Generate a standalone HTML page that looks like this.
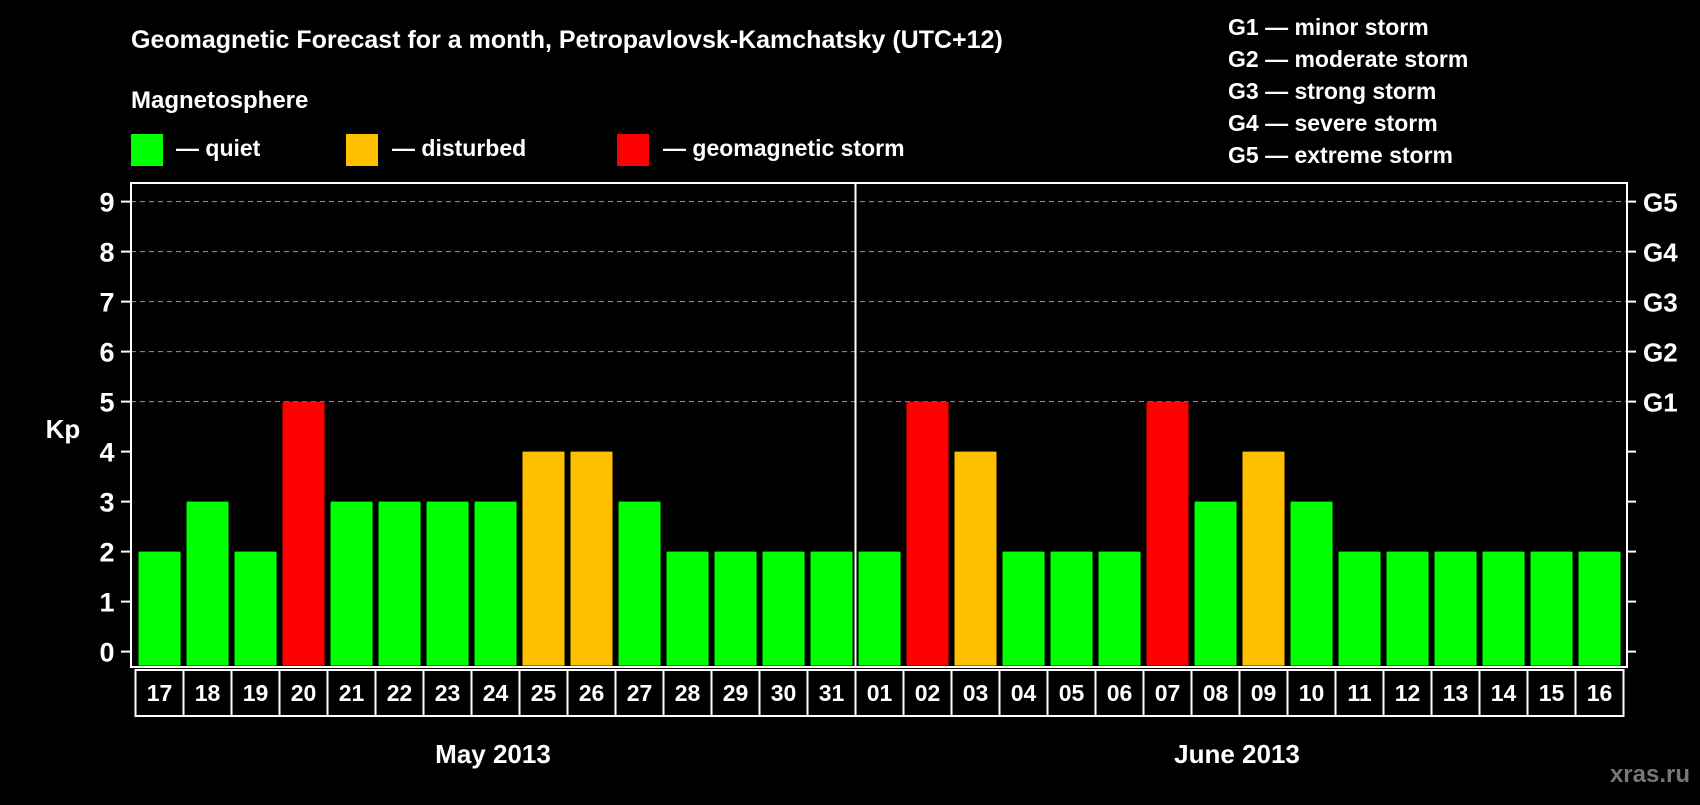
<!DOCTYPE html>
<html><head><meta charset="utf-8"><style>
body{margin:0;background:#000;width:1700px;height:800px;overflow:hidden;font-family:"Liberation Sans",sans-serif;}
svg text{font-family:"Liberation Sans",sans-serif;font-weight:bold;fill:#fff;}
</style></head><body>
<svg id="c" width="1700" height="800">
<text x="131" y="48" font-size="25">Geomagnetic Forecast for a month, Petropavlovsk-Kamchatsky (UTC+12)</text>
<text x="131" y="108" font-size="24">Magnetosphere</text>
<g><rect x="131" y="134" width="32" height="32" fill="#00ff00"/><text x="176" y="156" font-size="23">— quiet</text></g>
<g><rect x="346" y="134" width="32" height="32" fill="#ffc000"/><text x="392" y="156" font-size="23">— disturbed</text></g>
<g><rect x="617" y="134" width="32" height="32" fill="#ff0000"/><text x="663" y="156" font-size="23">— geomagnetic storm</text></g>
<g font-size="23">
<text x="1228" y="35">G1 — minor storm</text>
<text x="1228" y="67">G2 — moderate storm</text>
<text x="1228" y="99">G3 — strong storm</text>
<text x="1228" y="131">G4 — severe storm</text>
<text x="1228" y="163">G5 — extreme storm</text>
</g>
<g id="grid"></g><g id="bars"></g><g id="axes"></g>
<text x="63" y="438" font-size="26" text-anchor="middle">Kp</text>
<text x="493" y="763" font-size="26" text-anchor="middle">May 2013</text>
<text x="1237" y="763" font-size="26" text-anchor="middle">June 2013</text>
<text x="1690" y="782" font-size="24" text-anchor="end" style="fill:#777">xras.ru</text>
</svg>
<script>
const days=["17","18","19","20","21","22","23","24","25","26","27","28","29","30","31","01","02","03","04","05","06","07","08","09","10","11","12","13","14","15","16"];
const kp=[2,3,2,5,3,3,3,3,4,4,3,2,2,2,2,2,5,4,2,2,2,5,3,4,3,2,2,2,2,2,2];
const yTicks=[0,1,2,3,4,5,6,7,8,9];
const gLabels=["G1","G2","G3","G4","G5"];
const NS="http://www.w3.org/2000/svg";
const L=131,R=1627,T=183,B=667,x0=135.5,slot=48;
const y=v=>651.6-v*50;
const xs=i=>x0+i*slot;
function mk(t,a,p){const e=document.createElementNS(NS,t);for(const k in a)e.setAttribute(k,a[k]);p.appendChild(e);return e;}
const grid=document.getElementById('grid'),bars=document.getElementById('bars'),axes=document.getElementById('axes');
yTicks.forEach(v=>{
 if(v>=5){const g=mk('line',{x1:L,x2:R,y1:y(v),y2:y(v),stroke:'#999','stroke-dasharray':'5,4','stroke-width':1},grid);
 }
 const t1=mk('line',{x1:L-10,x2:L,y1:y(v),y2:y(v),stroke:'#fff','stroke-width':2},axes);
 
 const t2=mk('line',{x1:R,x2:R+9,y1:y(v),y2:y(v),stroke:'#fff','stroke-width':2},axes);
 
 const tl=mk('text',{x:107,y:y(v)+10,'font-size':27,'text-anchor':'middle'},axes);tl.textContent=v;
 
});
gLabels.forEach((g,i)=>{const t=mk('text',{x:1643,y:y(5+i)+10,'font-size':26},axes);t.textContent=g;
 });
kp.forEach((v,i)=>{
 const c=v>=5?'#ff0000':(v==4?'#ffc000':'#00ff00');
 const b=mk('rect',{x:xs(i)+3,y:y(v),width:42,height:y(0)+14-y(v),fill:c},bars);
 
 const bx=mk('rect',{x:xs(i),y:670,width:slot,height:46,fill:'none',stroke:'#fff','stroke-width':2},axes);
 
 const t=mk('text',{x:xs(i)+slot/2,y:701,'font-size':23,'text-anchor':'middle'},axes);t.textContent=days[i];
 
});
const fr=mk('rect',{x:L,y:T,width:R-L,height:B-T,fill:'none',stroke:'#fff','stroke-width':2},axes);

const sep=mk('line',{x1:xs(15),x2:xs(15),y1:T,y2:B,stroke:'#fff','stroke-width':2},axes);

</script>
</body></html>
